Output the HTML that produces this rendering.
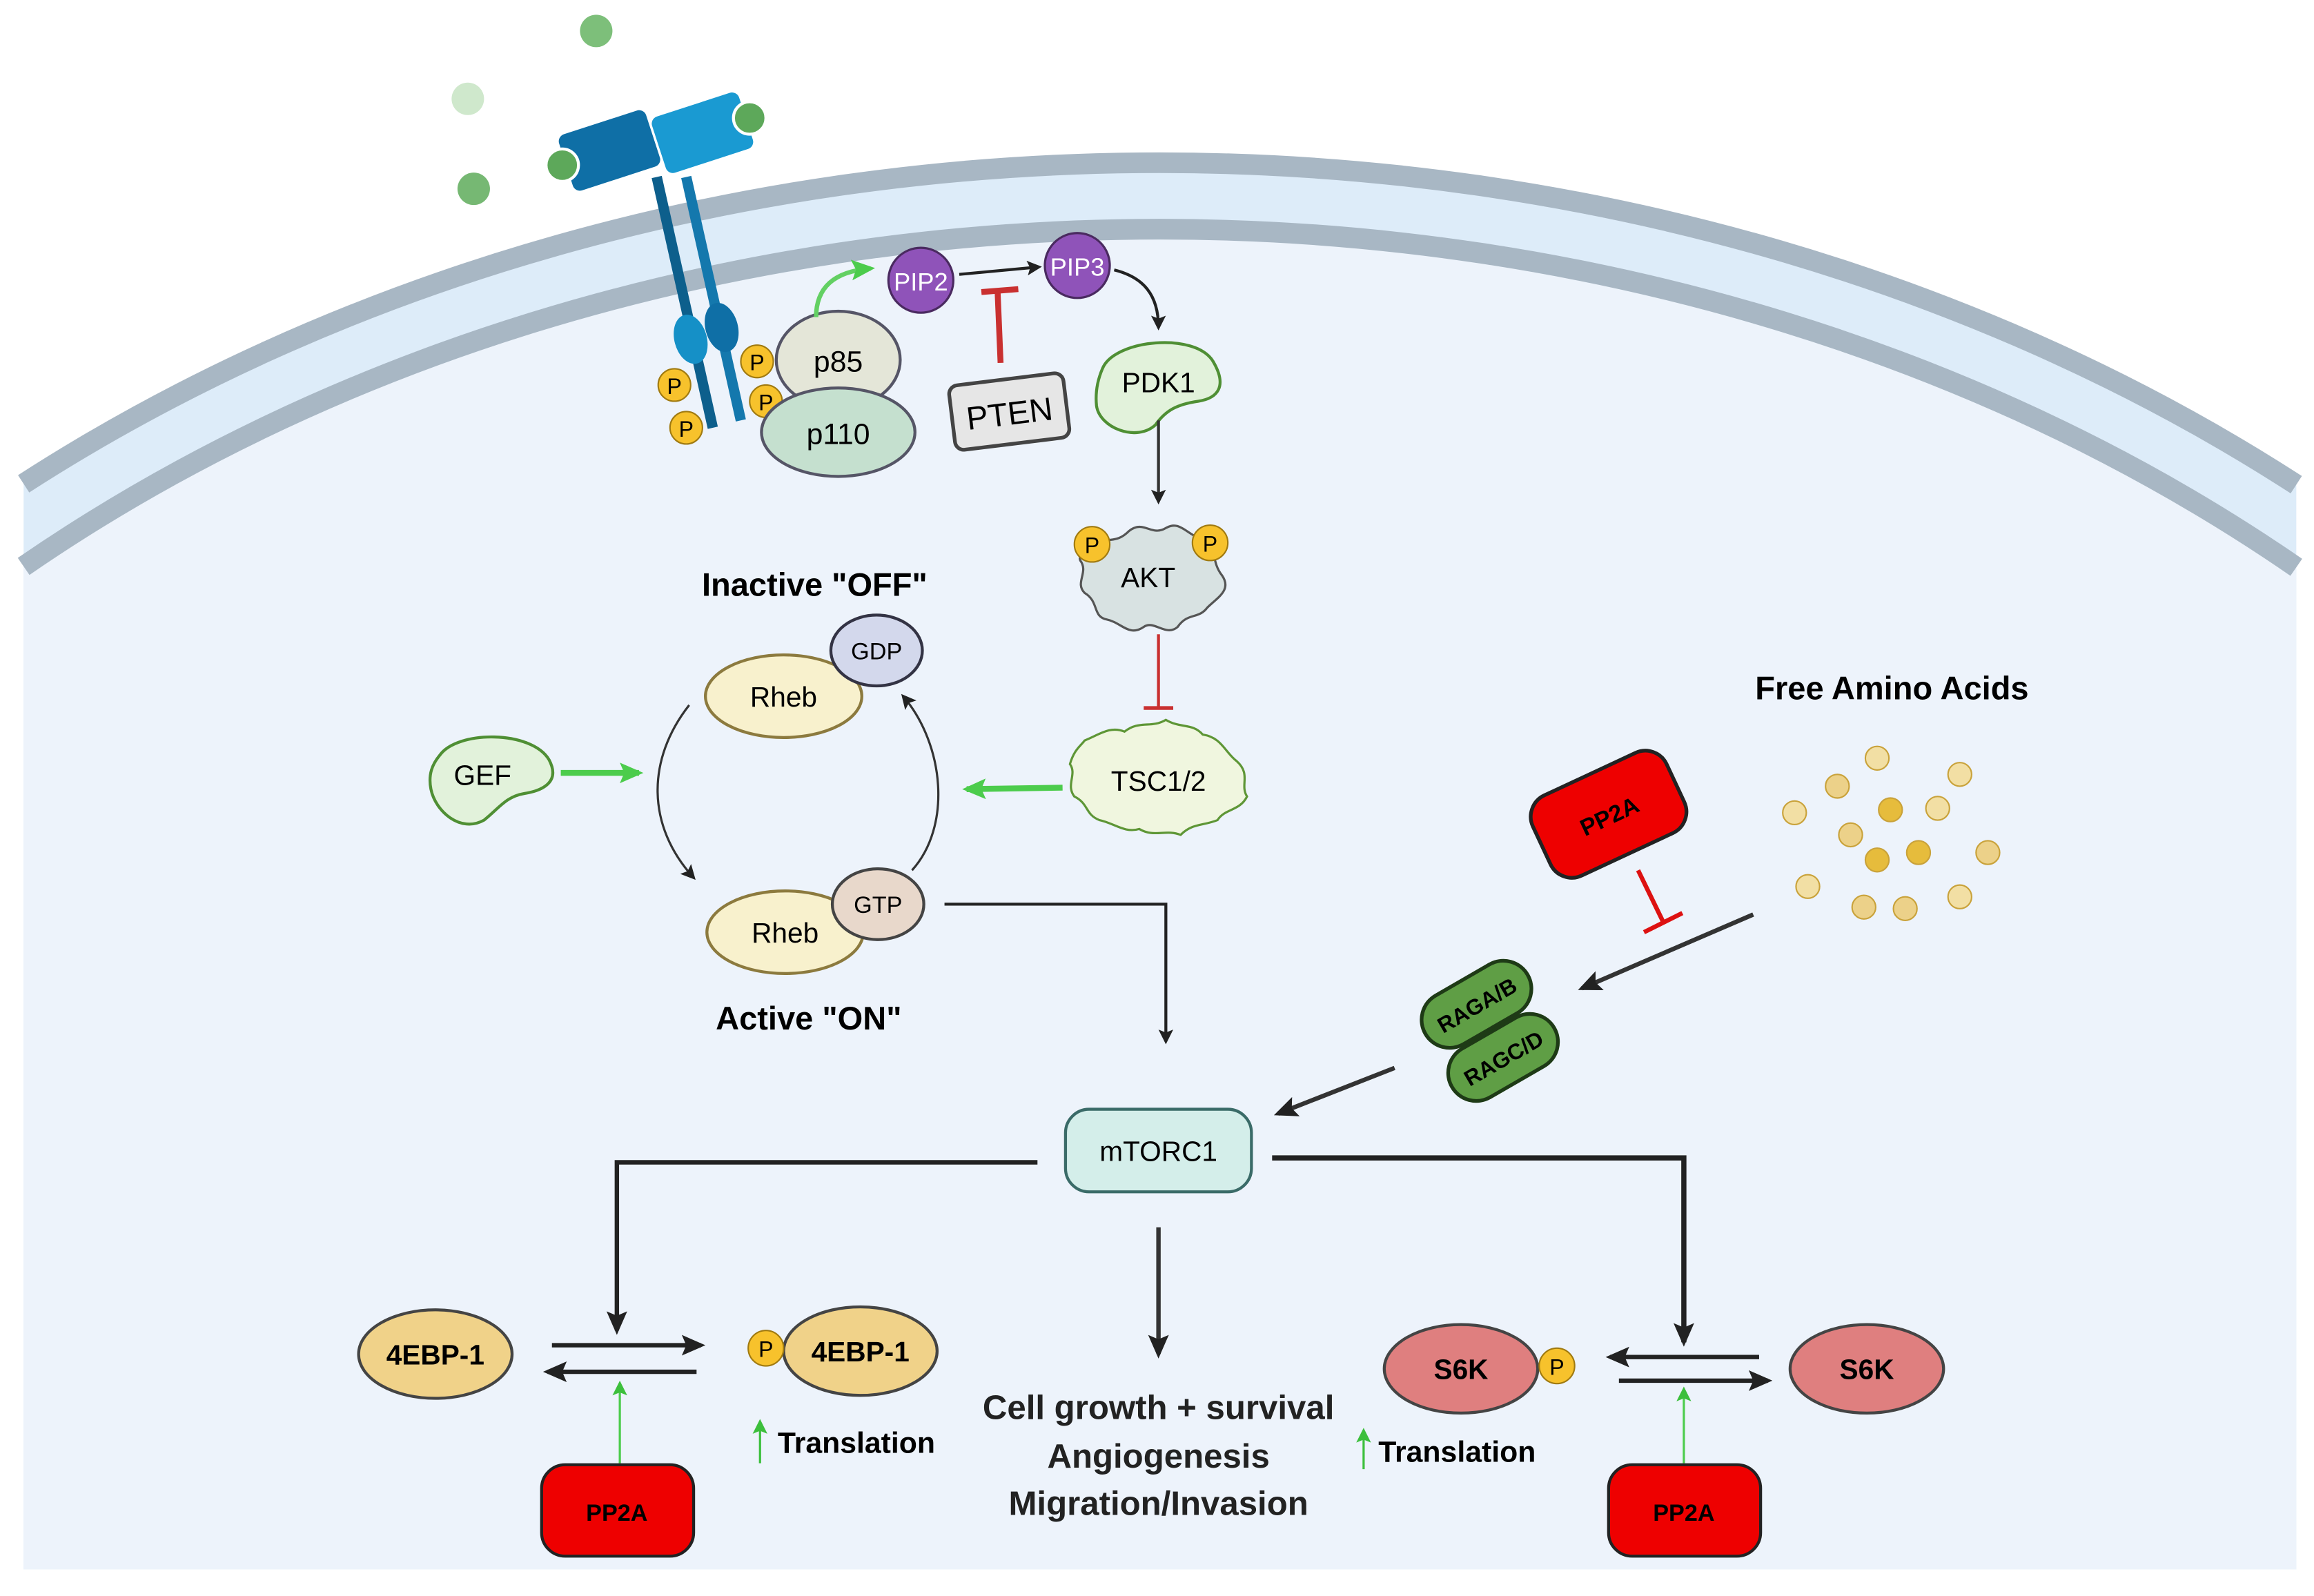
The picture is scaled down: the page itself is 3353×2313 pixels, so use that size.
<!DOCTYPE html>
<html><head><meta charset="utf-8"><style>
html,body{margin:0;padding:0;background:#fff;width:3353px;height:2313px;overflow:hidden;}
svg{display:block;}
text{font-family:"Liberation Sans",sans-serif;}
</style></head><body>
<svg width="3353" height="2313" viewBox="0 0 1568 1082" preserveAspectRatio="none" xmlns="http://www.w3.org/2000/svg">
<defs>
<marker id="ak" markerWidth="10" markerHeight="10" refX="8" refY="5" orient="auto" markerUnits="userSpaceOnUse"><path d="M0,0 L10,5 L0,10 L2,5z" fill="#222"/></marker>
<marker id="akb" markerWidth="16" markerHeight="16" refX="13" refY="8" orient="auto" markerUnits="userSpaceOnUse"><path d="M0,1 L16,8 L0,15 L3,8z" fill="#222"/></marker>
<marker id="ag" markerWidth="16" markerHeight="16" refX="13" refY="8" orient="auto" markerUnits="userSpaceOnUse"><path d="M0,1 L16,8 L0,15 L3,8z" fill="#4ccc4c"/></marker>
<marker id="ags" markerWidth="10" markerHeight="10" refX="8" refY="5" orient="auto" markerUnits="userSpaceOnUse"><path d="M0,0 L10,5 L0,10 L2,5z" fill="#3cbf3c"/></marker>
</defs>
<rect width="1568" height="1082" fill="#fff"/>
<path d="M16,1064 L16,328 A1230,990 0 0,1 1556,328.6 L1556,1064 Z" fill="#ddecf9"/>
<path d="M16,1064 L16,384 A1180,945 0 0,1 1556,384.6 L1556,1064 Z" fill="#edf3fb"/>
<path d="M16,328 A1230,990 0 0,1 1556,328.6" fill="none" stroke="#a8b7c4" stroke-width="14"/>
<path d="M16,384 A1180,945 0 0,1 1556,384.6" fill="none" stroke="#a8b7c4" stroke-width="14"/>
<circle cx="404" cy="21" r="11" fill="#7dbf7a"/>
<circle cx="317" cy="67" r="11" fill="#cfe8cc"/>
<circle cx="321" cy="128" r="11" fill="#76b873"/>
<g>
<path d="M445,120 L483,290" stroke="#0d5f8c" stroke-width="7"/>
<path d="M465,120 L502,285" stroke="#1478ad" stroke-width="7"/>
<rect x="382" y="82" width="62" height="40" rx="5" transform="rotate(-18 413 102)" fill="#0f6fa6"/>
<rect x="445" y="70" width="62" height="40" rx="5" transform="rotate(-18 476 90)" fill="#1a9ad2"/>
<ellipse cx="468" cy="230" rx="11" ry="17" fill="#1590c7" transform="rotate(-15 468 230)"/>
<ellipse cx="489" cy="222" rx="11" ry="17" fill="#0f6fa6" transform="rotate(-15 489 222)"/>
<circle cx="381" cy="112" r="11" fill="#5da85a" stroke="#fff" stroke-width="2"/>
<circle cx="508" cy="80" r="11" fill="#5da85a" stroke="#fff" stroke-width="2"/>
</g>
<g font-size="15" text-anchor="middle">
<circle cx="457" cy="261" r="11" fill="#f7c22c" stroke="#a07a10"/><text x="457" y="267">P</text>
<circle cx="465" cy="290" r="11" fill="#f7c22c" stroke="#a07a10"/><text x="465" y="296">P</text>
<circle cx="513" cy="245" r="11" fill="#f7c22c" stroke="#a07a10"/><text x="513" y="251">P</text>
<circle cx="519" cy="272" r="11" fill="#f7c22c" stroke="#a07a10"/><text x="519" y="278">P</text>
</g>
<ellipse cx="568" cy="244" rx="42" ry="33" fill="#e4e6d8" stroke="#556" stroke-width="2"/>
<text x="568" y="252" font-size="20" text-anchor="middle">p85</text>
<ellipse cx="568" cy="293" rx="52" ry="30" fill="#c5e0cf" stroke="#556" stroke-width="2"/>
<text x="568" y="301" font-size="20" text-anchor="middle">p110</text>
<path d="M553,215 C553,195 565,184 590,182" stroke="#63d063" stroke-width="3" fill="none" marker-end="url(#ag)"/>
<circle cx="624" cy="190" r="22" fill="#8f53b9" stroke="#4a2a60" stroke-width="1.5"/>
<text x="624" y="197" font-size="17" fill="#fff" text-anchor="middle">PIP2</text>
<circle cx="730" cy="180" r="22" fill="#8f53b9" stroke="#4a2a60" stroke-width="1.5"/>
<text x="730" y="187" font-size="17" fill="#fff" text-anchor="middle">PIP3</text>
<line x1="650" y1="186" x2="704" y2="181" stroke="#222" stroke-width="2" marker-end="url(#ak)"/>
<line x1="678" y1="246" x2="676" y2="198" stroke="#c93030" stroke-width="4"/>
<line x1="665" y1="198" x2="690" y2="196" stroke="#c93030" stroke-width="4"/>
<g transform="rotate(-7 684 280)"><rect x="645" y="257" width="78" height="44" rx="6" fill="#e6e6e6" stroke="#444" stroke-width="2.5"/>
<text x="684" y="288" font-size="22" text-anchor="middle">PTEN</text></g>
<path d="M755,183 C775,188 785,200 785,222" stroke="#222" stroke-width="2" fill="none" marker-end="url(#ak)"/>
<path d="M747,250 C755,230 810,225 822,245 C832,262 825,270 812,272 C798,274 790,278 783,288 C770,300 745,290 743,275 C742,265 744,257 747,250z" fill="#e2f2db" stroke="#4f8f34" stroke-width="2"/>
<text x="785" y="266" font-size="19" text-anchor="middle">PDK1</text>
<line x1="785" y1="285" x2="785" y2="340" stroke="#333" stroke-width="2" marker-end="url(#ak)"/>
<path d="M740,372 C750,362 755,370 765,360 C775,352 780,364 790,358 C800,352 805,364 815,365 C825,368 820,380 828,390 C835,400 825,405 818,412 C812,420 805,415 798,425 C790,432 782,420 775,425 C765,432 760,422 750,420 C740,418 745,408 735,402 C728,395 738,388 732,380 C730,375 738,374 740,372z" fill="#d8e2e2" stroke="#555" stroke-width="1.5"/>
<text x="778" y="398" font-size="19" text-anchor="middle">AKT</text>
<g font-size="15" text-anchor="middle">
<circle cx="740" cy="369" r="12" fill="#f7c22c" stroke="#a07a10"/><text x="740" y="375">P</text>
<circle cx="820" cy="368" r="12" fill="#f7c22c" stroke="#a07a10"/><text x="820" y="374">P</text>
</g>
<line x1="785" y1="430" x2="785" y2="480" stroke="#c93030" stroke-width="2"/>
<line x1="775" y1="480" x2="795" y2="480" stroke="#c93030" stroke-width="2.5"/>
<path d="M735,502 C745,498 752,492 762,496 C772,488 780,494 790,488 C800,494 808,490 815,498 C828,500 830,510 838,516 C848,525 840,532 845,540 C840,550 830,548 825,556 C815,560 808,558 800,566 C790,562 782,568 772,562 C762,565 755,558 745,556 C735,552 738,545 728,540 C722,532 730,525 725,518 C728,508 732,506 735,502z" fill="#f0f6df" stroke="#5e9636" stroke-width="1.5"/>
<text x="785" y="536" font-size="19" text-anchor="middle">TSC1/2</text>
<line x1="720" y1="534" x2="655" y2="535" stroke="#4ccc4c" stroke-width="4" marker-end="url(#ag)"/>
<text x="552" y="404" font-size="22" font-weight="bold" text-anchor="middle">Inactive "OFF"</text>
<ellipse cx="531" cy="472" rx="53" ry="28" fill="#f8f1cd" stroke="#8c7a3e" stroke-width="2"/>
<text x="531" y="479" font-size="19" text-anchor="middle">Rheb</text>
<ellipse cx="594" cy="441" rx="31" ry="24" fill="#d3d8ec" stroke="#334" stroke-width="2"/>
<text x="594" y="447" font-size="16" text-anchor="middle">GDP</text>
<ellipse cx="532" cy="632" rx="53" ry="28" fill="#f8f1cd" stroke="#8c7a3e" stroke-width="2"/>
<text x="532" y="639" font-size="19" text-anchor="middle">Rheb</text>
<ellipse cx="595" cy="613" rx="31" ry="24" fill="#e8d8cb" stroke="#444" stroke-width="2"/>
<text x="595" y="619" font-size="16" text-anchor="middle">GTP</text>
<path d="M467,478 C438,515 438,560 470,595" stroke="#333" stroke-width="1.5" fill="none" marker-end="url(#ak)"/>
<path d="M618,590 C645,560 640,505 612,472" stroke="#333" stroke-width="1.5" fill="none" marker-end="url(#ak)"/>
<text x="548" y="698" font-size="22" font-weight="bold" text-anchor="middle">Active  "ON"</text>
<path d="M298,512 C310,495 360,495 372,515 C380,530 368,536 355,538 C343,540 338,548 328,556 C312,565 295,550 292,535 C290,525 293,518 298,512z" fill="#e2f2db" stroke="#4f8f34" stroke-width="2"/>
<text x="327" y="532" font-size="19" text-anchor="middle">GEF</text>
<line x1="380" y1="524" x2="433" y2="524" stroke="#4ccc4c" stroke-width="4" marker-end="url(#ag)"/>
<polyline points="640,613 790,613 790,706" stroke="#222" stroke-width="2" fill="none" marker-end="url(#ak)"/>
<text x="1282" y="474" font-size="22" font-weight="bold" text-anchor="middle">Free Amino Acids</text>
<g stroke="#c9a23a" stroke-width="1">
<circle cx="1272" cy="514" r="8" fill="#f2dfa4"/><circle cx="1245" cy="533" r="8" fill="#ecd189"/>
<circle cx="1328" cy="525" r="8" fill="#f2dfa4"/><circle cx="1216" cy="551" r="8" fill="#f2dfa4"/>
<circle cx="1281" cy="549" r="8" fill="#e6bc3c"/><circle cx="1313" cy="548" r="8" fill="#f2dfa4"/>
<circle cx="1254" cy="566" r="8" fill="#ecd189"/><circle cx="1272" cy="583" r="8" fill="#e6bc3c"/>
<circle cx="1300" cy="578" r="8" fill="#e6bc3c"/><circle cx="1347" cy="578" r="8" fill="#ecd189"/>
<circle cx="1225" cy="601" r="8" fill="#f2dfa4"/><circle cx="1263" cy="615" r="8" fill="#ecd189"/>
<circle cx="1291" cy="616" r="8" fill="#ecd189"/><circle cx="1328" cy="608" r="8" fill="#f2dfa4"/>
</g>
<g transform="rotate(-25 1090 552)"><rect x="1040" y="522" width="100" height="60" rx="16" fill="#ee0000" stroke="#222" stroke-width="2.5"/>
<text x="1090" y="559" font-size="16" font-weight="bold" text-anchor="middle">PP2A</text></g>
<line x1="1110" y1="590" x2="1127" y2="625" stroke="#dd1111" stroke-width="3"/>
<line x1="1114" y1="632" x2="1140" y2="619" stroke="#dd1111" stroke-width="3"/>
<line x1="1188" y1="620" x2="1072" y2="670" stroke="#333" stroke-width="3" marker-end="url(#akb)"/>
<g transform="rotate(-30 1000 680)"><rect x="960" y="662" width="80" height="38" rx="19" fill="#5f9e45" stroke="#1e3a16" stroke-width="2.5"/>
<text x="1000" y="687" font-size="15" font-weight="bold" text-anchor="middle">RAGA/B</text></g>
<g transform="rotate(-30 1018 716)"><rect x="978" y="698" width="80" height="38" rx="19" fill="#5f9e45" stroke="#1e3a16" stroke-width="2.5"/>
<text x="1018" y="723" font-size="15" font-weight="bold" text-anchor="middle">RAGC/D</text></g>
<line x1="945" y1="724" x2="866" y2="755" stroke="#333" stroke-width="3" marker-end="url(#akb)"/>
<rect x="722" y="752" width="126" height="56" rx="16" fill="#d4eeea" stroke="#3a6b68" stroke-width="2"/>
<text x="785" y="787" font-size="19" text-anchor="middle">mTORC1</text>
<polyline points="703,788 418,788 418,902" stroke="#222" stroke-width="3" fill="none" marker-end="url(#akb)"/>
<polyline points="862,785 1141,785 1141,910" stroke="#222" stroke-width="3.5" fill="none" marker-end="url(#akb)"/>
<line x1="785" y1="832" x2="785" y2="918" stroke="#333" stroke-width="3" marker-end="url(#akb)"/>
<ellipse cx="295" cy="918" rx="52" ry="30" fill="#f0d289" stroke="#444" stroke-width="2"/>
<text x="295" y="925" font-size="19" font-weight="bold" text-anchor="middle">4EBP-1</text>
<ellipse cx="583" cy="916" rx="52" ry="30" fill="#f0d289" stroke="#444" stroke-width="2"/>
<text x="583" y="923" font-size="19" font-weight="bold" text-anchor="middle">4EBP-1</text>
<circle cx="519" cy="914" r="12" fill="#f7c22c" stroke="#a07a10"/><text x="519" y="920" font-size="15" text-anchor="middle">P</text>
<line x1="374" y1="912" x2="475" y2="912" stroke="#222" stroke-width="3" marker-end="url(#akb)"/>
<line x1="472" y1="930" x2="371" y2="930" stroke="#222" stroke-width="3" marker-end="url(#akb)"/>
<line x1="420" y1="992" x2="420" y2="938" stroke="#4ccc4c" stroke-width="1.5" marker-end="url(#ags)"/>
<rect x="367" y="993" width="103" height="62" rx="16" fill="#ee0000" stroke="#222" stroke-width="2"/>
<text x="418" y="1031" font-size="16" font-weight="bold" text-anchor="middle">PP2A</text>
<line x1="515" y1="992" x2="515" y2="964" stroke="#3cbf3c" stroke-width="1.5" marker-end="url(#ags)"/>
<text x="527" y="985" font-size="20" font-weight="bold">Translation</text>
<g font-size="23" font-weight="bold" text-anchor="middle" fill="#222">
<text x="785" y="962">Cell growth + survival</text>
<text x="785" y="995">Angiogenesis</text>
<text x="785" y="1027">Migration/Invasion</text>
</g>
<line x1="924" y1="996" x2="924" y2="970" stroke="#3cbf3c" stroke-width="1.5" marker-end="url(#ags)"/>
<text x="934" y="991" font-size="20" font-weight="bold">Translation</text>
<ellipse cx="990" cy="928" rx="52" ry="30" fill="#df7f7f" stroke="#444" stroke-width="2"/>
<text x="990" y="935" font-size="19" font-weight="bold" text-anchor="middle">S6K</text>
<circle cx="1055" cy="926" r="12" fill="#f7c22c" stroke="#a07a10"/><text x="1055" y="932" font-size="15" text-anchor="middle">P</text>
<ellipse cx="1265" cy="928" rx="52" ry="30" fill="#df7f7f" stroke="#444" stroke-width="2"/>
<text x="1265" y="935" font-size="19" font-weight="bold" text-anchor="middle">S6K</text>
<line x1="1192" y1="920" x2="1091" y2="920" stroke="#222" stroke-width="3" marker-end="url(#akb)"/>
<line x1="1097" y1="936" x2="1198" y2="936" stroke="#222" stroke-width="3" marker-end="url(#akb)"/>
<line x1="1141" y1="992" x2="1141" y2="942" stroke="#4ccc4c" stroke-width="1.5" marker-end="url(#ags)"/>
<rect x="1090" y="993" width="103" height="62" rx="16" fill="#ee0000" stroke="#222" stroke-width="2"/>
<text x="1141" y="1031" font-size="16" font-weight="bold" text-anchor="middle">PP2A</text>
</svg>
</body></html>
